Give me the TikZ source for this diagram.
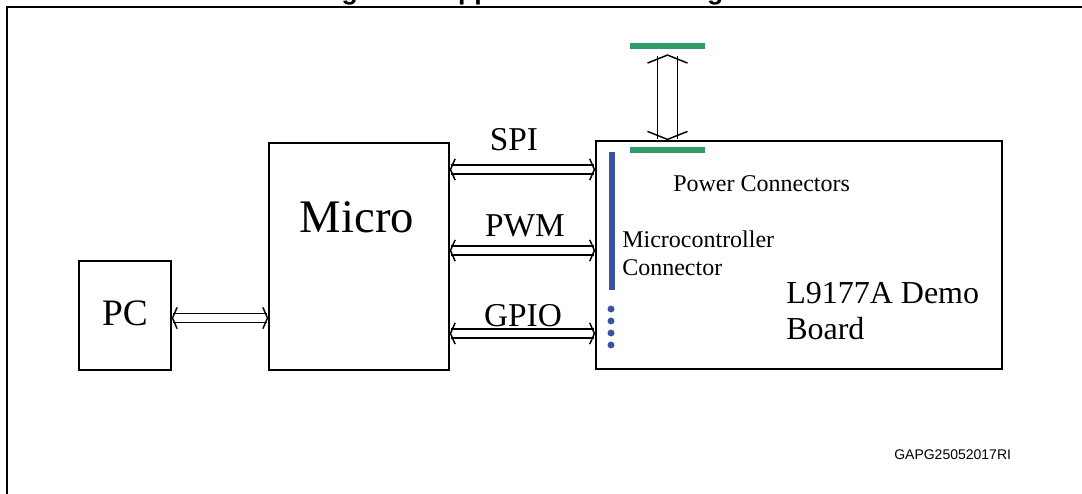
\documentclass[tikz,border=0pt]{standalone}
\usepackage{fontspec}
\setmainfont{Liberation Serif}
\newfontfamily\arialfont{Liberation Sans}
\usetikzlibrary{arrows.meta}
\definecolor{stgreen}{RGB}{46,154,104}
\definecolor{stblue}{RGB}{57,83,164}
\begin{document}
\begin{tikzpicture}[x=0.75pt,y=-0.75pt,
  box/.style={draw, line width=1pt, inner sep=0pt, anchor=center},
  txt/.style={inner sep=0pt},
  dbl/.style={line width=1.1pt, double distance=5.6pt,
    {Straight Barb[length=3.5pt,width=16pt]}-{Straight Barb[length=3.5pt,width=16pt]}},
  vdbl/.style={line width=1.1pt, double distance=13.9pt,
    {Straight Barb[length=6pt,width=30pt]}-{Straight Barb[length=6pt,width=30pt]}},
  gbar/.style={fill=stgreen, inner sep=0pt, minimum width=56.25pt, minimum height=4.5pt},
  bdot/.style={circle, fill=stblue, inner sep=0pt, minimum size=5.2pt},
]
\useasboundingbox (0,0) rectangle (1082,493);
\fill[white] (0,0) rectangle (1082,493);
% title (cut off at top, as in the reference)
\begin{scope}
\clip (0,0) rectangle (1082,493);
\node[txt, anchor=base] (title) at (545,-0.5) {\arialfont\bfseries\fontsize{20}{24}\selectfont Figure 3. Application block diagram};
\end{scope}
% frame
\draw[line width=1.5pt] (7,500) -- (7,7) -- (1090,7);
% boxes
\node[box, minimum width=69pt, minimum height=81.75pt] (pc) at (125,315.5) {};
\node[box, minimum width=135pt, minimum height=170.25pt] (micro) at (359,256.5) {};
\node[box, line width=1.2pt, minimum width=304.5pt, minimum height=171pt] (board) at (799,255) {};
% texts
\node[txt, anchor=base, font=\fontsize{28}{32}\selectfont] (pct) at (125,325) {PC};
\node[txt, anchor=base, font=\fontsize{35}{40}\selectfont] (microt) at (357,232) {Micro};
\node[txt, anchor=base, font=\fontsize{25}{30}\selectfont] (spi) at (514,150) {SPI};
\node[txt, anchor=base, font=\fontsize{25}{30}\selectfont] (pwm) at (525,236) {PWM};
\node[txt, anchor=base, font=\fontsize{25}{30}\selectfont] (gpio) at (523,326) {GPIO};
\node[txt, anchor=base west, font=\fontsize{18}{21}\selectfont] (pwrt) at (673,191) {Power Connectors};
\node[txt, anchor=base west, font=\fontsize{18}{21}\selectfont] (mcc1) at (622,247) {Microcontroller};
\node[txt, anchor=base west, font=\fontsize{18}{21}\selectfont] (mcc2) at (622,275) {Connector};
\node[txt, anchor=base west, font=\fontsize{24}{28}\selectfont] (brd1) at (786,303) {L9177A Demo};
\node[txt, anchor=base west, font=\fontsize{24}{28}\selectfont] (brd2) at (786,339) {Board};
\node[txt, anchor=base west, font=\arialfont\fontsize{10.5}{12}\selectfont] (code) at (894,459) {GAPG25052017RI};
% connectors on the board
\node[gbar] (pwrtop) at (667.5,46) {};
\node[gbar] (pwrbot) at (667.5,150) {};
\node[fill=stblue, inner sep=0pt, minimum width=4.5pt, minimum height=103.5pt] (mcbar) at (612,221) {};
\node[bdot] (d1) at (611,309) {};
\node[bdot] (d2) at (611,321) {};
\node[bdot] (d3) at (611,333) {};
\node[bdot] (d4) at (611,345) {};
% arrow rows
\coordinate (pcy) at (0,318);
\coordinate (spiy) at (0,169.5);
\coordinate (pwmy) at (0,250.5);
\coordinate (gpioy) at (0,333.5);
\draw[dbl] (pc.east |- pcy) -- (micro.west |- pcy);
\draw[dbl] (micro.east |- spiy) -- (board.west |- spiy);
\draw[dbl] (micro.east |- pwmy) -- (board.west |- pwmy);
\draw[dbl] (micro.east |- gpioy) -- (board.west |- gpioy);
\draw[vdbl, shorten <=3.75pt] (pwrtop.south) -- (board.north -| pwrtop.south);
\end{tikzpicture}
\end{document}
